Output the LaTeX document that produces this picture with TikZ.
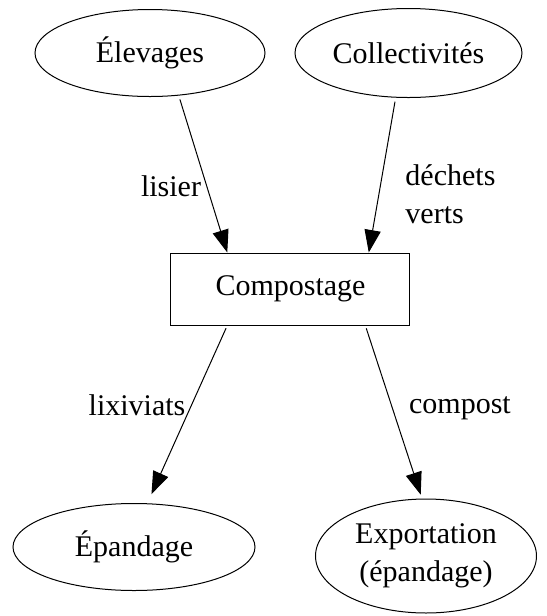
\documentclass[tikz,border=0pt]{standalone}
\usepackage{fontspec}
\setmainfont{Liberation Serif}
\usepackage{tikz}
\usetikzlibrary{shapes,arrows.meta}

\begin{document}
\begin{tikzpicture}[x=0.4pt,y=-0.4pt,
    font=\fontsize{12}{15.2}\selectfont,
    source/.style={draw, ellipse, inner sep=0pt},
    fleche/.style={-{Triangle[length=9pt,width=6.5pt]}}]
    \useasboundingbox (0,0) rectangle (547,616);
    % les noeuds
    \node[source, minimum width=92pt, minimum height=34.8pt] (elev) at (150,53) {Élevages};
    \node[source, minimum width=90.8pt, minimum height=35.6pt] (coll) at (408.5,53) {Collectivités};
    \node[draw, minimum width=95.6pt, minimum height=28.8pt] (comp) at (290.5,289) {Compostage};
    \node[source, minimum width=96.8pt, minimum height=34.8pt] (epan) at (134,547) {Épandage};
    \node[source, minimum width=88.4pt, minimum height=45.6pt, align=center] (expo) at (426,556) {Exportation\\(épandage)};
    % les fleches
    \draw[fleche, shorten <=1.6pt] (elev.-56) -- (comp.150);
    \draw[fleche, shorten <=1.6pt] (coll.-106) -- (comp.25);
    \draw[fleche, shorten <=1.2pt, shorten >=4pt] (comp.-150) -- (epan.73);
    \draw[fleche, shorten <=1.2pt, shorten >=1.6pt] (comp.-26) -- (expo.94);
    % les etiquettes
    \node (lisier) at (171,186) {lisier};
    \node[anchor=west, align=left, inner sep=0pt] (dechets) at (405,194) {déchets\\verts};
    \node (lixiv) at (137,405) {lixiviats};
    \node (compost) at (460,408) {compost};
\end{tikzpicture}
\end{document}
